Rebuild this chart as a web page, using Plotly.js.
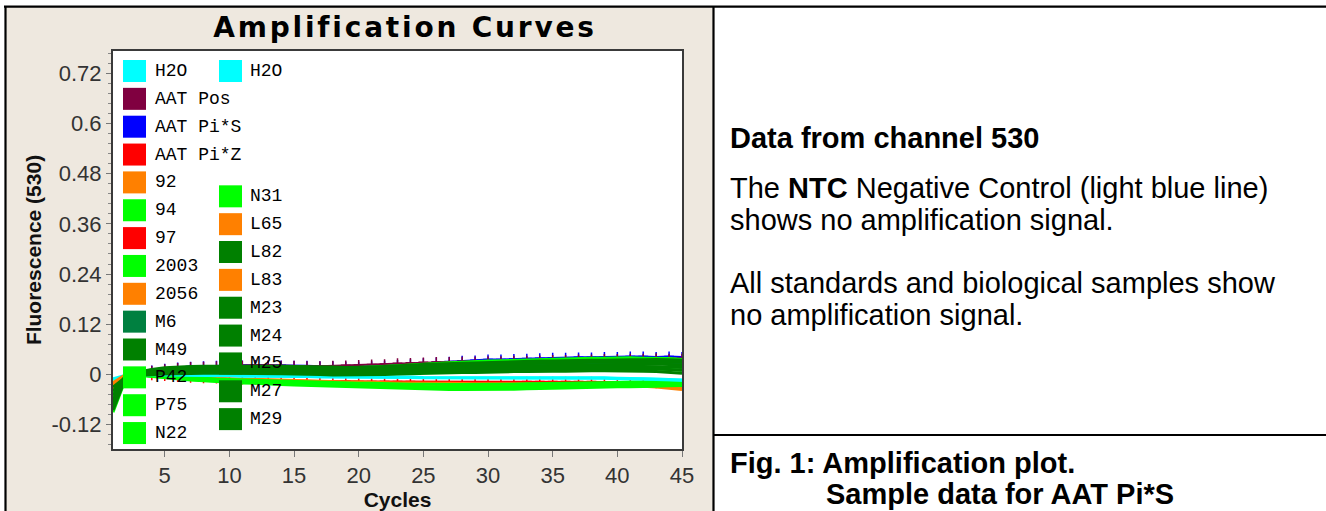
<!DOCTYPE html>
<html><head><meta charset="utf-8">
<script src="https://cdn.plot.ly/plotly-3.0.1.min.js"></script>
<style>
html,body{margin:0;padding:0;background:#fff;}
#chart{width:1326px;height:511px;}
.gtitle{letter-spacing:2.8px;}
</style></head><body><div id="chart"></div>
<script>
// ---------------- DATA ----------------
const cycles = [1,2,3,4,5,6,7,8,9,10,11,12,13,14,15,16,17,18,19,20,21,22,23,24,25,26,27,28,29,30,31,32,33,34,35,36,37,38,39,40,41,42,43,44,45];

const h2oA   = [-0.010,-0.002,0.001,0.001,0.000, 0.000,-0.001,-0.001,-0.002,-0.002, -0.003,-0.003,-0.003,-0.004,-0.004, -0.004,-0.005,-0.005,-0.005,-0.006, -0.006,-0.006,-0.006,-0.006,-0.007, -0.007,-0.007,-0.007,-0.007,-0.007, -0.007,-0.007,-0.007,-0.007,-0.007, -0.007,-0.008,-0.008,-0.008,-0.009, -0.009,-0.010,-0.011,-0.012,-0.013];
const h2oB   = [-0.012,-0.003,0.000,0.000,-0.001, -0.001,-0.002,-0.002,-0.003,-0.003, -0.004,-0.004,-0.004,-0.005,-0.005, -0.005,-0.006,-0.006,-0.006,-0.007, -0.007,-0.007,-0.007,-0.007,-0.008, -0.008,-0.008,-0.008,-0.008,-0.008, -0.008,-0.008,-0.008,-0.008,-0.009, -0.009,-0.009,-0.009,-0.009,-0.010, -0.010,-0.011,-0.012,-0.013,-0.014];
const aatPos = [-0.050,-0.010,0.003,0.009,0.013, 0.016,0.018,0.019,0.020,0.021, 0.021,0.022,0.022,0.021,0.021, 0.020,0.020,0.021,0.022,0.023, 0.024,0.025,0.027,0.028,0.029, 0.030,0.030,0.031,0.031,0.032, 0.032,0.033,0.033,0.034,0.035, 0.035,0.036,0.036,0.037,0.037, 0.038,0.038,0.039,0.038,0.038];
const aatPiS = [-0.040,-0.008,0.004,0.010,0.014, 0.017,0.019,0.020,0.021,0.022, 0.022,0.023,0.022,0.022,0.021, 0.021,0.020,0.020,0.019,0.019, 0.020,0.021,0.023,0.025,0.027, 0.029,0.031,0.033,0.034,0.036, 0.036,0.037,0.038,0.039,0.040, 0.040,0.041,0.041,0.042,0.042, 0.043,0.043,0.042,0.043,0.042];
const aatPiZ = [-0.030,-0.004,0.000,-0.002,-0.004, -0.006,-0.008,-0.009,-0.010,-0.011, -0.012,-0.013,-0.014,-0.014,-0.015, -0.015,-0.016,-0.016,-0.016,-0.017, -0.017,-0.017,-0.017,-0.017,-0.018, -0.018,-0.018,-0.018,-0.018,-0.018, -0.018,-0.018,-0.017,-0.017,-0.017, -0.017,-0.017,-0.017,-0.018,-0.018, -0.019,-0.020,-0.021,-0.022,-0.023];
const s92    = [-0.020,0.000,0.006,0.010,0.012, 0.013,0.014,0.014,0.014,0.014, 0.014,0.013,0.013,0.012,0.012, 0.011,0.011,0.010,0.010,0.010, 0.011,0.012,0.013,0.015,0.017, 0.018,0.020,0.021,0.022,0.024, 0.025,0.026,0.027,0.028,0.029, 0.030,0.031,0.032,0.032,0.033, 0.034,0.034,0.035,0.034,0.032];
const s94    = [-0.040,-0.003,0.004,0.009,0.013, 0.015,0.016,0.017,0.018,0.018, 0.019,0.019,0.019,0.018,0.018, 0.017,0.017,0.017,0.016,0.017, 0.018,0.019,0.021,0.023,0.025, 0.026,0.028,0.029,0.031,0.032, 0.033,0.034,0.035,0.036,0.037, 0.038,0.038,0.039,0.039,0.040, 0.040,0.039,0.039,0.038,0.036];
const s97    = [-0.035,-0.005,-0.001,-0.003,-0.005, -0.007,-0.009,-0.010,-0.011,-0.012, -0.013,-0.014,-0.015,-0.016,-0.016, -0.017,-0.017,-0.018,-0.018,-0.019, -0.019,-0.019,-0.020,-0.020,-0.020, -0.020,-0.020,-0.020,-0.020,-0.020, -0.020,-0.020,-0.019,-0.019,-0.019, -0.019,-0.019,-0.020,-0.020,-0.021, -0.022,-0.023,-0.024,-0.025,-0.026];
const s2003  = [-0.060,-0.006,-0.002,-0.005,-0.008, -0.011,-0.013,-0.015,-0.017,-0.019, -0.020,-0.021,-0.023,-0.024,-0.025, -0.026,-0.027,-0.028,-0.029,-0.030, -0.031,-0.032,-0.033,-0.034,-0.035, -0.035,-0.036,-0.036,-0.036,-0.036, -0.035,-0.035,-0.034,-0.034,-0.033, -0.032,-0.031,-0.030,-0.030,-0.029, -0.029,-0.029,-0.028,-0.027,-0.026];
const s2056  = [-0.025,-0.003,0.000,-0.003,-0.006, -0.008,-0.010,-0.012,-0.013,-0.014, -0.015,-0.016,-0.017,-0.018,-0.019, -0.019,-0.020,-0.020,-0.021,-0.021, -0.022,-0.022,-0.022,-0.023,-0.023, -0.023,-0.024,-0.024,-0.024,-0.024, -0.024,-0.024,-0.024,-0.023,-0.023, -0.023,-0.023,-0.024,-0.024,-0.025, -0.026,-0.028,-0.030,-0.033,-0.036];
const m6     = [-0.065,-0.005,0.003,0.008,0.011, 0.013,0.014,0.014,0.015,0.015, 0.015,0.015,0.014,0.014,0.013, 0.013,0.012,0.011,0.011,0.011, 0.012,0.013,0.014,0.015,0.017, 0.018,0.018,0.019,0.020,0.021, 0.022,0.022,0.023,0.023,0.024, 0.025,0.025,0.025,0.026,0.026, 0.026,0.027,0.027,0.026,0.025];
const m49    = [-0.085,-0.006,0.006,0.012,0.016, 0.018,0.019,0.020,0.020,0.021, 0.021,0.021,0.020,0.020,0.019, 0.019,0.018,0.018,0.017,0.017, 0.018,0.019,0.021,0.022,0.024, 0.025,0.026,0.027,0.028,0.029, 0.030,0.030,0.031,0.032,0.032, 0.033,0.033,0.034,0.034,0.035, 0.035,0.035,0.036,0.035,0.034];
const p42    = [-0.090,-0.008,-0.001,-0.003,-0.006, -0.008,-0.010,-0.012,-0.013,-0.015, -0.016,-0.017,-0.018,-0.019,-0.020, -0.021,-0.022,-0.023,-0.024,-0.025, -0.026,-0.027,-0.028,-0.029,-0.029, -0.030,-0.030,-0.030,-0.030,-0.030, -0.029,-0.029,-0.028,-0.027,-0.027, -0.026,-0.025,-0.024,-0.024,-0.023, -0.022,-0.022,-0.021,-0.020,-0.019];
const p75    = [-0.080,-0.007,-0.001,-0.004,-0.007, -0.010,-0.012,-0.014,-0.016,-0.017, -0.018,-0.019,-0.020,-0.021,-0.022, -0.023,-0.024,-0.025,-0.026,-0.027, -0.028,-0.029,-0.030,-0.031,-0.032, -0.032,-0.033,-0.033,-0.033,-0.033, -0.032,-0.032,-0.031,-0.031,-0.030, -0.029,-0.028,-0.027,-0.027,-0.026, -0.025,-0.025,-0.024,-0.024,-0.023];
const n22    = [-0.045,-0.005,0.000,-0.002,-0.004, -0.006,-0.008,-0.009,-0.011,-0.012, -0.013,-0.014,-0.015,-0.016,-0.017, -0.018,-0.018,-0.019,-0.020,-0.021, -0.021,-0.022,-0.022,-0.023,-0.023, -0.024,-0.024,-0.024,-0.024,-0.024, -0.023,-0.023,-0.022,-0.022,-0.021, -0.021,-0.020,-0.020,-0.019,-0.019, -0.018,-0.018,-0.018,-0.017,-0.016];
const n31    = [-0.055,-0.004,0.002,0.005,0.007, 0.008,0.008,0.009,0.009,0.009, 0.009,0.008,0.008,0.007,0.007, 0.006,0.006,0.005,0.005,0.005, 0.005,0.006,0.007,0.008,0.009, 0.010,0.010,0.011,0.012,0.012, 0.013,0.013,0.014,0.014,0.015, 0.015,0.016,0.016,0.016,0.016, 0.015,0.015,0.014,0.012,0.010];
const l65    = [-0.030,-0.002,0.004,0.007,0.009, 0.010,0.011,0.011,0.012,0.012, 0.012,0.012,0.011,0.011,0.010, 0.010,0.009,0.008,0.008,0.008, 0.009,0.010,0.011,0.012,0.014, 0.016,0.017,0.019,0.020,0.022, 0.023,0.024,0.025,0.026,0.027, 0.028,0.029,0.030,0.031,0.031, 0.032,0.032,0.033,0.032,0.030];
const l82    = [-0.075,-0.005,0.005,0.011,0.014, 0.016,0.017,0.018,0.018,0.019, 0.019,0.019,0.018,0.018,0.017, 0.017,0.016,0.016,0.015,0.015, 0.016,0.017,0.019,0.020,0.022, 0.023,0.024,0.025,0.026,0.027, 0.027,0.028,0.029,0.029,0.030, 0.031,0.031,0.032,0.032,0.032, 0.033,0.033,0.033,0.032,0.031];
const l83    = [-0.020,-0.002,0.001,-0.001,-0.003, -0.005,-0.007,-0.008,-0.009,-0.010, -0.011,-0.012,-0.013,-0.014,-0.015, -0.016,-0.016,-0.017,-0.018,-0.018, -0.019,-0.019,-0.020,-0.020,-0.021, -0.021,-0.021,-0.022,-0.022,-0.022, -0.022,-0.022,-0.022,-0.021,-0.021, -0.021,-0.021,-0.022,-0.022,-0.023, -0.024,-0.025,-0.027,-0.029,-0.031];
const m23    = [-0.070,-0.004,0.004,0.009,0.012, 0.014,0.015,0.016,0.016,0.016, 0.017,0.017,0.016,0.016,0.015, 0.015,0.014,0.013,0.013,0.013, 0.014,0.015,0.016,0.018,0.019, 0.020,0.021,0.022,0.023,0.024, 0.025,0.025,0.026,0.027,0.027, 0.028,0.028,0.029,0.029,0.030, 0.030,0.030,0.031,0.030,0.029];
const m24    = [-0.060,-0.003,0.003,0.007,0.010, 0.011,0.012,0.012,0.013,0.013, 0.013,0.013,0.012,0.012,0.011, 0.011,0.010,0.009,0.009,0.009, 0.010,0.011,0.012,0.013,0.014, 0.015,0.016,0.017,0.018,0.019, 0.019,0.020,0.021,0.021,0.022, 0.022,0.023,0.023,0.024,0.024, 0.024,0.025,0.025,0.024,0.023];
const m25    = [-0.050,-0.002,0.002,0.005,0.007, 0.008,0.009,0.009,0.010,0.010, 0.010,0.010,0.009,0.009,0.008, 0.008,0.007,0.006,0.006,0.006, 0.006,0.007,0.008,0.009,0.010, 0.011,0.012,0.013,0.013,0.014, 0.015,0.015,0.016,0.016,0.017, 0.017,0.018,0.018,0.018,0.019, 0.019,0.019,0.019,0.018,0.017];
const m27    = [-0.040,-0.004,0.000,0.002,0.004, 0.005,0.006,0.006,0.006,0.007, 0.007,0.006,0.006,0.005,0.005, 0.004,0.003,0.003,0.002,0.002, 0.003,0.003,0.004,0.005,0.006, 0.007,0.008,0.008,0.009,0.010, 0.010,0.011,0.011,0.012,0.012, 0.013,0.013,0.013,0.014,0.014, 0.014,0.014,0.013,0.012,0.010];
const m29    = [-0.030,-0.006,-0.002,0.000,0.001, 0.002,0.003,0.003,0.003,0.003, 0.003,0.003,0.002,0.002,0.001, 0.001,0.000,-0.001,-0.001,-0.001, 0.000,0.000,0.001,0.002,0.003, 0.003,0.004,0.005,0.005,0.006, 0.006,0.007,0.007,0.008,0.008, 0.008,0.009,0.009,0.009,0.009, 0.009,0.008,0.007,0.005,0.003];

const legendCol1 = ['H2O','AAT Pos','AAT Pi*S','AAT Pi*Z','92','94','97','2003','2056','M6','M49','P42','P75','N22'];
const legendCol2 = ['H2O','N31','L65','L82','L83','M23','M24','M25','M27','M29'];

const yTickVals = [-0.12, 0, 0.12, 0.24, 0.36, 0.48, 0.6, 0.72];
const yTickText = ['-0.12', '0', '0.12', '0.24', '0.36', '0.48', '0.6', '0.72'];
const xTickVals = [5, 10, 15, 20, 25, 30, 35, 40, 45];
const xTickText = ['5', '10', '15', '20', '25', '30', '35', '40', '45'];

// ---------------- STYLE ----------------
const colorOf = {
  'H2O':'#00FFFF','AAT Pos':'#800040','AAT Pi*S':'#0000FF','AAT Pi*Z':'#FF0000',
  '92':'#FF8000','94':'#00FF00','97':'#FF0000','2003':'#00FF00','2056':'#FF8000',
  'M6':'#008040','M49':'#008000','P42':'#00FF00','P75':'#00FF00','N22':'#00FF00',
  'N31':'#00FF00','L65':'#FF8000','L82':'#008000','L83':'#FF8000','M23':'#008000',
  'M24':'#008000','M25':'#008000','M27':'#008000','M29':'#008000'
};
const withMarkers = ['AAT Pos','AAT Pi*S','AAT Pi*Z'];

// draw order (bottom -> top)
const seriesList = [
  ['AAT Pi*S', aatPiS], ['AAT Pos', aatPos], ['AAT Pi*Z', aatPiZ], ['97', s97],
  ['2056', s2056], ['L83', l83], ['2003', s2003], ['P42', p42], ['P75', p75], ['N22', n22],
  ['H2O', h2oA], ['H2O', h2oB],
  ['92', s92], ['L65', l65], ['94', s94], ['N31', n31],
  ['M6', m6], ['M49', m49], ['L82', l82], ['M23', m23], ['M24', m24], ['M25', m25], ['M27', m27], ['M29', m29]
];

const traces = seriesList.map(([name, ys]) => {
  const t = {
    type: 'scatter', x: cycles, y: ys, name: name, showlegend: false,
    mode: 'lines',
    line: {color: colorOf[name], width: 3},
    hoverinfo: 'skip'
  };
  if (withMarkers.includes(name)) {
    t.mode = 'lines+markers';
    t.line.width = 2;
    t.marker = {symbol: 'cross-thin', size: 7, line: {color: colorOf[name], width: 1.5}};
  }
  return t;
});

// ---------------- LAYOUT ----------------
const L = 113, R = 682, T = 51, B = 449, FW = 1326, FH = 511;
const PW = R - L, PH = B - T;
const px = v => (v - L) / PW;
const py = v => (B - v) / PH;
const beige = '#EEE8DF';

const shapes = [
  {type:'rect', xref:'paper', yref:'paper', x0:px(6), x1:px(713), y0:py(FH+5), y1:py(7), fillcolor:beige, line:{width:0}, layer:'below'},
  {type:'rect', xref:'paper', yref:'paper', x0:0, x1:1, y0:0, y1:1, fillcolor:'#FFFFFF', line:{width:0}, layer:'below'},
  {type:'line', xref:'paper', yref:'paper', x0:px(4), x1:px(FW+5), y0:py(6.7), y1:py(6.7), line:{color:'#000', width:2.2}, layer:'above'},
  {type:'line', xref:'paper', yref:'paper', x0:px(5.5), x1:px(5.5), y0:py(6), y1:py(FH+5), line:{color:'#000', width:2.2}, layer:'above'},
  {type:'line', xref:'paper', yref:'paper', x0:px(713.5), x1:px(713.5), y0:py(6), y1:py(FH+5), line:{color:'#000', width:2.2}, layer:'above'},
  {type:'line', xref:'paper', yref:'paper', x0:px(713), x1:px(FW+5), y0:py(435), y1:py(435), line:{color:'#000', width:2.2}, layer:'above'}
];
const annotations = [];

// legend (two columns) drawn as swatches + labels
const rowY = r => 71 + 27.85 * r;
function legendItem(name, row, swX, txX) {
  const cy = rowY(row);
  shapes.push({type:'rect', xref:'paper', yref:'paper', x0:px(swX), x1:px(swX+23), y0:py(cy+11), y1:py(cy-11),
    fillcolor: colorOf[name], line:{width:0}, layer:'above'});
  annotations.push({xref:'paper', yref:'paper', x:px(txX), y:py(cy), xanchor:'left', yanchor:'middle',
    text: name, showarrow:false, font:{family:'Liberation Mono, monospace', size:18, color:'#000'}});
}
legendCol1.forEach((n, i) => legendItem(n, i, 123, 153));
legendCol2.forEach((n, i) => legendItem(n, i === 0 ? 0 : i + 3.5, 219, 248));

// right panel text
const rtFont = {family:'Liberation Sans, Arial, sans-serif', size:29, color:'#000'};
const rightLines = [
  ['<b>Data from channel 530</b>', 728, 138],
  ['The <b>NTC</b> Negative Control (light blue line)', 728, 188],
  ['shows no amplification signal.', 728, 220],
  ['All standards and biological samples show', 728, 283],
  ['no amplification signal.', 728, 315],
  ['<b>Fig. 1: Amplification plot.</b>', 728, 463],
  ['<b>Sample data for AAT Pi*S</b>', 824, 494]
];
rightLines.forEach(([t, x, y]) => annotations.push({xref:'paper', yref:'paper', x:px(x), y:py(y),
  xanchor:'left', yanchor:'middle', text:t, showarrow:false, font:rtFont}));

const tickFont = {family:'Liberation Sans, Arial, sans-serif', size:22, color:'#333'};
const axTitleFont = {family:'Liberation Sans, Arial, sans-serif', size:21, color:'#111', weight:'bold'};

const layout = {
  width: FW, height: FH,
  margin: {l: L, r: FW - R, t: T, b: FH - B, pad: 0},
  paper_bgcolor: '#FFFFFF', plot_bgcolor: '#FFFFFF',
  showlegend: false,
  title: {text: 'Amplification Curves', xref:'paper', x: px(405), xanchor:'center',
          yref:'container', y: 1 - 27/FH, yanchor:'middle',
          font: {family:'DejaVu Sans, sans-serif', size:28, weight:'bold', color:'#000'}},
  xaxis: {range:[1, 45], tickmode:'array', tickvals:xTickVals, ticktext:xTickText,
          ticks:'outside', ticklen:6, tickcolor:'#777', tickwidth:1,
          showline:true, mirror:true, linecolor:'#3a3a3a', linewidth:2,
          showgrid:false, zeroline:false, tickfont:tickFont,
          title:{text:'Cycles', font:axTitleFont, standoff:0}},
  yaxis: {range:[-0.178, 0.773], tickmode:'array', tickvals:yTickVals, ticktext:yTickText,
          ticks:'outside', ticklen:5, tickcolor:'#777', tickwidth:1,
          minor:{tickmode:'linear', tick0:0, dtick:0.024, ticks:'outside', ticklen:3, tickcolor:'#888', showgrid:false},
          showline:true, mirror:true, linecolor:'#3a3a3a', linewidth:2,
          showgrid:false, zeroline:false, tickfont:tickFont,
          title:{text:'Fluorescence (530)', font:axTitleFont, standoff:4}},
  shapes: shapes,
  annotations: annotations
};

Plotly.newPlot('chart', traces, layout, {staticPlot:true, displayModeBar:false});
</script></body></html>
